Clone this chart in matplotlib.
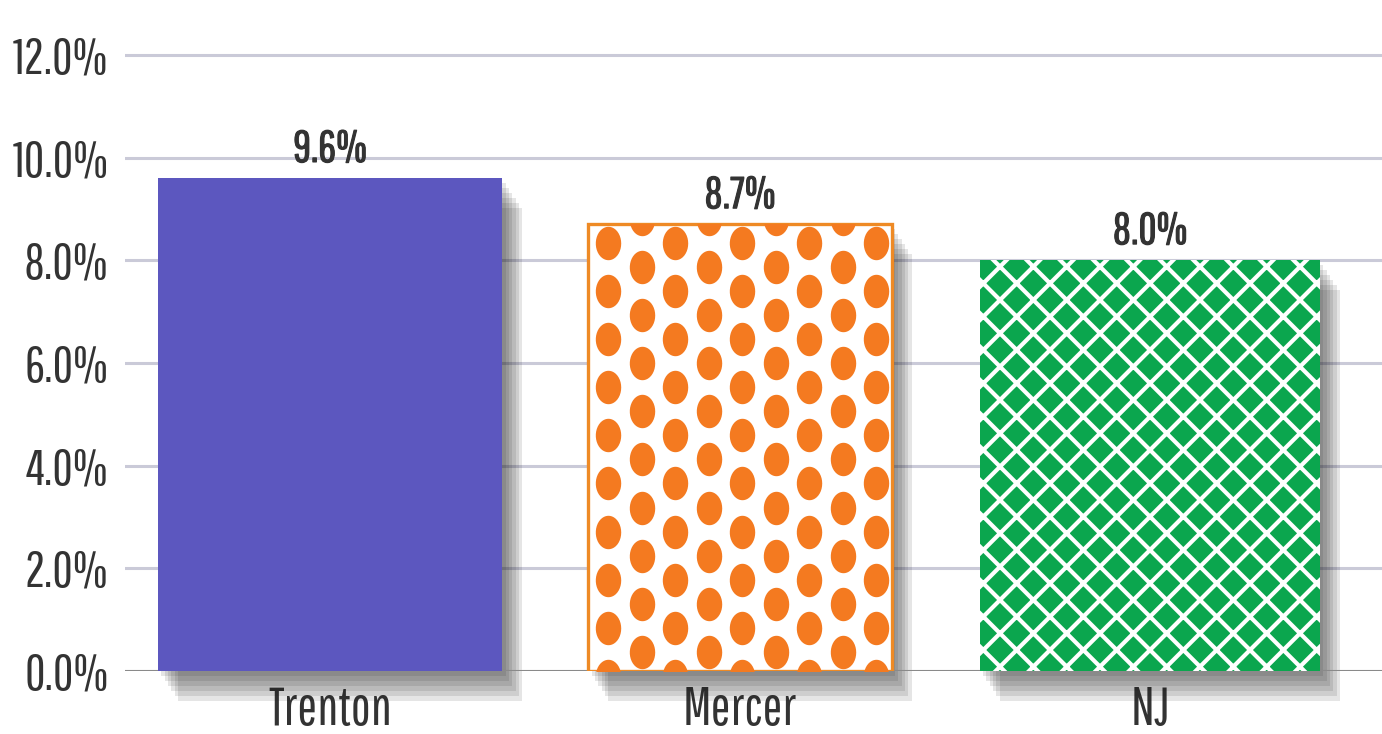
import matplotlib.pyplot as plt
import matplotlib.patheffects as pe
from matplotlib.transforms import ScaledTranslation
import numpy as np

categories = ['Trenton', 'Mercer', 'NJ']
values = [9.6, 8.7, 8.0]
value_labels = ['9.6%', '8.7%', '8.0%']
yticks = [0, 2, 4, 6, 8, 10, 12]

plt.rcParams['font.family'] = ['Pathway Gothic One', 'DejaVu Sans']
plt.rcParams['hatch.linewidth'] = 1.5

fig = plt.figure(figsize=(6.91, 3.67), dpi=200)
ax = fig.add_axes([0.0905, 0.0858, 0.9095, 0.8447])

x = np.arange(len(categories))
widths = [0.84, 0.74, 0.83]

# soft drop shadow: a few offset translucent copies of the bars
for o in [1.2, 2.4, 3.6, 4.8, 6.0, 7.2]:
    tr = ax.transData + ScaledTranslation(o / 72, -1.5 * o / 72, fig.dpi_scale_trans)
    ax.bar(x, values, width=widths, color='#1a1a1a', alpha=0.11, zorder=2,
           transform=tr, clip_on=False, linewidth=0)

bars = ax.bar(x, values, width=widths, zorder=3)
bars[0].set_facecolor('#5C57BF')
bars[0].set_edgecolor('none')
bars[1].set_facecolor('white')
bars[1].set_edgecolor('#EE8A25')
bars[1].set_linewidth(1.2)
bars[2].set_facecolor('#0BA64E')
bars[2].set_edgecolor('white')
bars[2].set_linewidth(0)
bars[2].set_hatch('xx')

# orange dot pattern for Mercer
b = bars[1]
x0, w, h = b.get_x(), b.get_width(), b.get_height()
dx, dy = 0.0817, 0.936
dots_x, dots_y = [], []
for i, cx in enumerate(np.arange(x0 + dx * 0.6, x0 + w + dx, dx)):
    ys = np.arange(-0.09 + (i % 2) * dy / 2, h + dy, dy)
    dots_x += [cx] * len(ys)
    dots_y += list(ys)
t = np.linspace(0, 2 * np.pi, 40)
ellipse = np.column_stack([0.76 * np.cos(t), np.sin(t)])
sc = ax.scatter(dots_x, dots_y, s=145, marker=ellipse, color='#F47A20',
                linewidths=0, zorder=4)
sc.set_clip_path(b)

bold = [pe.withStroke(linewidth=0.4, foreground='#333333')]
for xi, v, lab in zip(x, values, value_labels):
    ax.annotate(lab, (xi, v), xytext=(0, 3), textcoords='offset points',
                ha='center', va='bottom', fontsize=16, color='#333333',
                path_effects=bold)

ax.set_xlim(-0.5, 2.566)
ax.set_ylim(0, 12.08)
ax.set_yticks(yticks)
ax.set_yticklabels([f'{v:.1f}%' for v in yticks])
ax.set_xticks(x)
ax.set_xticklabels(categories)
ax.tick_params(axis='y', length=0, pad=6, labelsize=18, labelcolor='#333333')
ax.tick_params(axis='x', length=0, pad=5, labelsize=19, labelcolor='#333333')
ax.yaxis.grid(True, color='#CACAD8', linewidth=1.1)
ax.set_axisbelow(True)
ax.axhline(0, color='#8A8A8A', linewidth=1.1, zorder=2.5)
for s in ax.spines.values():
    s.set_visible(False)

fig.savefig('out.png', dpi=200)
